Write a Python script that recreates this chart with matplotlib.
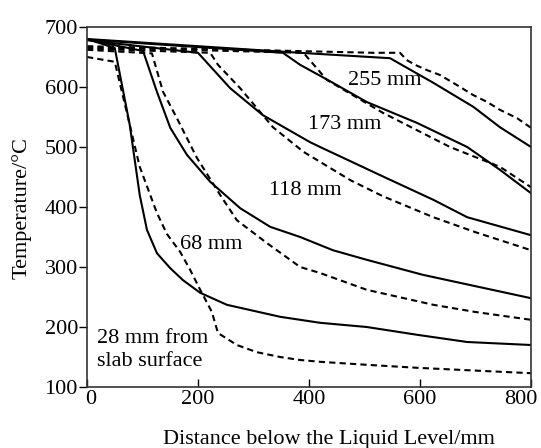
import matplotlib
matplotlib.use("Agg")
import matplotlib.pyplot as plt
import matplotlib.transforms as mtransforms

plt.rcParams['font.family'] = ['Liberation Serif', 'DejaVu Serif']
plt.rcParams['mathtext.fontset'] = 'stix'

# ---- data (distance below liquid level in mm, temperature in C) ----
x28_s = [0, 50, 77, 95, 108, 126, 150, 173, 204, 252, 348, 420, 504, 595, 685, 800]
y28_s = [680, 665, 537, 420, 362, 323, 298, 278, 257, 237, 217, 207, 200, 187, 175, 170]
x28_d = [0, 50, 95, 126, 144, 168, 186, 204, 225, 236, 270, 306, 348, 384, 420, 504, 595, 685, 800]
y28_d = [650, 642, 467, 390, 355, 325, 295, 262, 225, 190, 170, 158, 150, 145, 142, 137, 132, 128, 123]

x68_s = [0, 101, 126, 150, 180, 222, 276, 330, 384, 443, 504, 605, 700, 800]
y68_s = [679, 660, 592, 532, 487, 442, 398, 367, 350, 328, 312, 287, 268, 248]
x68_d = [0, 117, 137, 162, 198, 240, 270, 324, 384, 420, 504, 624, 700, 800]
y68_d = [662, 656, 592, 548, 482, 420, 378, 340, 300, 290, 262, 237, 225, 212]

x118_s = [0, 200, 258, 317, 402, 420, 533, 624, 685, 800]
y118_s = [678, 657, 598, 553, 508, 500, 451, 412, 383, 353]
x118_d = [0, 222, 236, 276, 335, 390, 474, 533, 624, 700, 800]
y118_d = [664, 657, 637, 598, 533, 492, 445, 418, 383, 358, 328]

x173_s = [0, 353, 384, 443, 504, 595, 685, 744, 800]
y173_s = [679, 657, 637, 607, 575, 540, 500, 462, 423]
x173_d = [0, 390, 432, 533, 654, 744, 800]
y173_d = [666, 657, 612, 557, 500, 467, 433]

x255_s = [0, 384, 546, 624, 696, 744, 800]
y255_s = [680, 657, 648, 607, 567, 533, 500]
x255_d = [0, 516, 564, 576, 591, 613, 636, 667, 695, 721, 744, 775, 800]
y255_d = [668, 657, 657, 645, 637, 628, 620, 603, 587, 575, 562, 548, 532]

xticks = [0, 200, 400, 600, 800]
yticks = [100, 200, 300, 400, 500, 600, 700]

labels = ["28 mm from\nslab surface", "68 mm", "118 mm", "173 mm", "255 mm"]
label_x = [18, 223, 393, 465, 537]
label_y = [162, 338, 428, 537, 611]

# ---- figure ----
W, H = 541, 448
FS = 16
fig = plt.figure(figsize=(W / 100, H / 100), dpi=100)
ax = fig.add_axes([87 / W, 1 - 387 / H, (531 - 87) / W, (387 - 27) / H])

solids = [(x28_s, y28_s), (x68_s, y68_s), (x118_s, y118_s), (x173_s, y173_s), (x255_s, y255_s)]
dashes = [(x28_d, y28_d), (x68_d, y68_d), (x118_d, y118_d), (x173_d, y173_d), (x255_d, y255_d)]
for xs, ys in solids:
    ax.plot(xs, ys, color='black', lw=1.5, solid_joinstyle='round')
for xs, ys in dashes:
    ax.plot(xs, ys, color='black', lw=1.5, dashes=(3, 2))

for t, lx, ly in zip(labels, label_x, label_y):
    if '\n' in t:
        ax.text(lx, ly, t, fontsize=FS, ha='left', va='center', linespacing=1.28)
    else:
        ax.text(lx, ly, t, fontsize=FS, ha='center', va='center')

ax.set_xlim(0, 800)
ax.set_ylim(100, 700)
ax.set_xticks(xticks)
ax.set_yticks(yticks)
ax.tick_params(axis='x', direction='in', length=6, width=1, labelsize=FS, pad=2)
ax.tick_params(axis='y', direction='out', length=6, width=1, labelsize=FS, pad=0.5)
for s in ax.spines.values():
    s.set_linewidth(1.2)
    s.set_color('#333333')

# small offsets of the end tick labels as in the reference
xl = ax.get_xticklabels()
xl[0].set_transform(xl[0].get_transform() + mtransforms.ScaledTranslation(4 / 100, 0, fig.dpi_scale_trans))
xl[-1].set_transform(xl[-1].get_transform() + mtransforms.ScaledTranslation(-10 / 100, 0, fig.dpi_scale_trans))

fig.text(329 / W, 1 - 439 / H, "Distance below the Liquid Level/mm", fontsize=FS, ha='center', va='center')
fig.text(22 / W, 1 - 208 / H, "Temperature/°C", fontsize=FS, ha='center', va='center', rotation=90)

fig.savefig("out.png", dpi=100)
